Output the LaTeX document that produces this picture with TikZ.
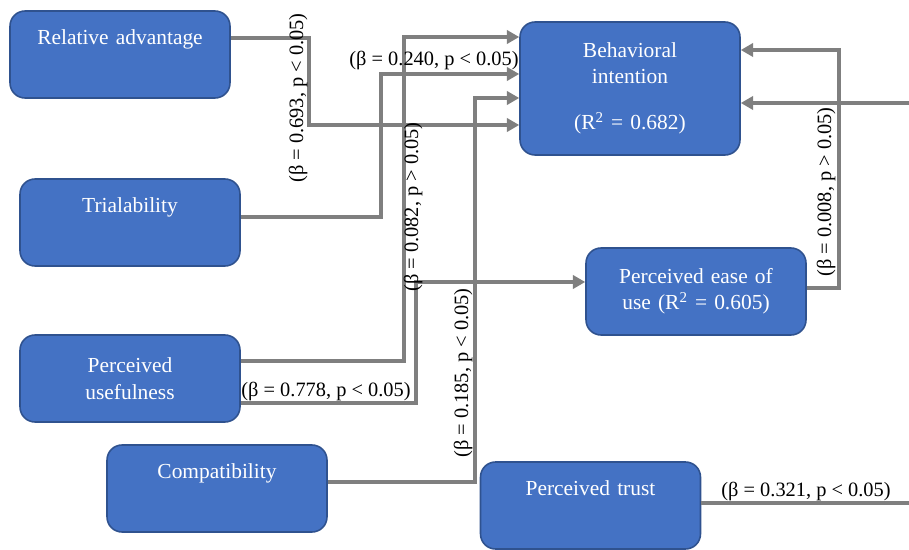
\documentclass[tikz,border=0pt]{standalone}
\usepackage{fontspec}
\setmainfont{Liberation Serif}
\usetikzlibrary{shapes,arrows,arrows.meta}
\definecolor{boxblue}{HTML}{4472C4}
\definecolor{boxedge}{HTML}{2F528F}
\definecolor{linegray}{HTML}{7F7F7F}
\tikzstyle{factor} = [rectangle, draw=boxedge, line width=0.9pt, fill=boxblue,
text=white, text width=4.2cm, align=center, rounded corners=0.3cm,
minimum width=4.4cm, minimum height=1.74cm, inner sep=0pt,
font=\fontsize{12.2}{15}\selectfont]
\tikzstyle{oneline} = [text height=8.5pt, text depth=20pt]
\tikzstyle{line} = [draw=linegray, line width=1.8pt, -{Triangle[length=7pt,width=7.5pt]}]
\tikzstyle{coef} = [inner sep=0pt, font=\fontsize{11.6}{14}\selectfont]

\begin{document}
\begin{tikzpicture}[x=0.02cm, y=-0.02cm]
\useasboundingbox (0,0) rectangle (909,550);
\clip (0,0) rectangle (909,550);
% Place nodes
\node [factor, oneline] (ra) at (120,54.5) {Relative advantage};
\node [factor, oneline] (tri) at (130,222.5) {Trialability};
\node [factor] (pu) at (130,378.5) {Perceived\\usefulness};
\node [factor, oneline] (comp) at (217,488.5) {Compatibility};
\node [factor, oneline] (trust) at (590.5,505.5) {Perceived trust};
\node [factor, minimum height=2.66cm] (bi) at (630,88.5) {Behavioral\\intention\\[11pt](R\textsuperscript{2} = 0.682)};
\node [factor] (peou) at (696,291.5) {Perceived ease of\\use (R\textsuperscript{2} = 0.605)};

% Draw edges
\path [line] (ra.east |- 0,38) -| (309,125) -- (bi.west |- 0,125);
\path [line] (tri.east |- 0,217) -| (381,74) -- (bi.west |- 0,74);
\path [line] (pu.east |- 0,361) -| (404,37) -- (bi.west |- 0,37);
\path [line] (pu.east |- 0,403) -| (416,282) -- (peou.west |- 0,282);
\path [line] (comp.east |- 0,482) -| (475,98) -- (bi.west |- 0,98);
\path [line] (peou.east |- 0,288) -| (839,50) -- (bi.east |- 0,50);
\path [line] (trust.east |- 0,503) -| (935,103) -- (bi.east |- 0,103);

% Place coefficients
\node [coef, rotate=90] (c1) at (298,98) {(β = 0.693, p < 0.05)};
\node [coef] (c2) at (434,60) {(β = 0.240, p < 0.05)};
\node [coef, rotate=90] (c3) at (413,207) {(β = 0.082, p > 0.05)};
\node [coef] (c4) at (326,391) {(β = 0.778, p < 0.05)};
\node [coef, rotate=90] (c5) at (463,373) {(β = 0.185, p < 0.05)};
\node [coef, rotate=90] (c6) at (826,192) {(β = 0.008, p > 0.05)};
\node [coef] (c7) at (806,491) {(β = 0.321, p < 0.05)};
\end{tikzpicture}
\end{document}
